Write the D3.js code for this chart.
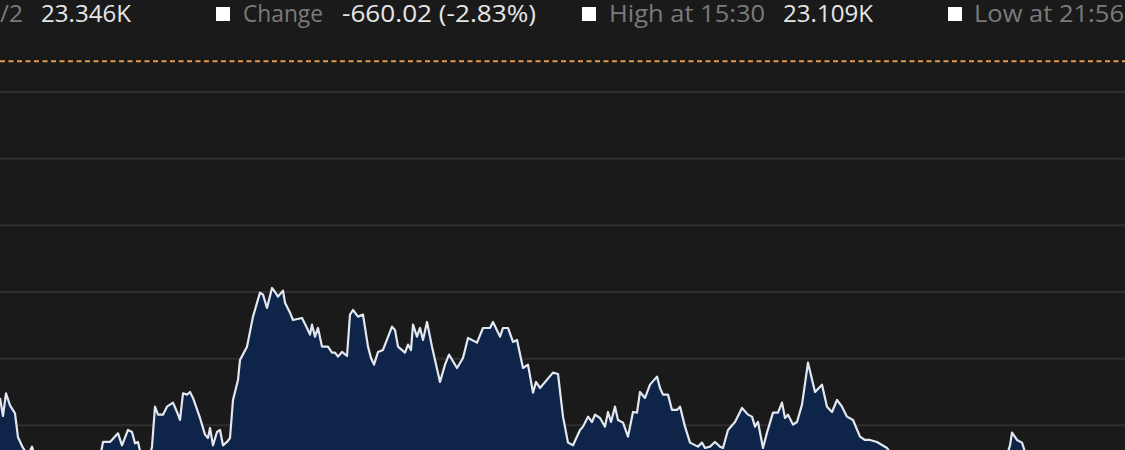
<!DOCTYPE html>
<html lang="en">
<head>
<meta charset="utf-8"/>
<title>Intraday price</title>
<style>
  html, body { margin: 0; padding: 0; background: #1a1a1a; }
  svg { display: block; }
  .hdr { font-family: "Open Sans", sans-serif; font-size: 23.5px; }
  .lbl { fill: #7a7a7a; }
  .val { fill: #e6e6e6; }
  .grid line { stroke: #2f2f2f; stroke-width: 2px; }
  .prev { stroke: #e59a4c; stroke-width: 2px; stroke-dasharray: 5 3.5; }
  .area { fill: #0e2549; }
  .line { fill: none; stroke: #e3e8f0; stroke-width: 2.2px; stroke-linejoin: round; }
</style>
</head>
<body>
<script src="https://cdn.jsdelivr.net/npm/d3@7"></script>
<script>
// minutes from the left edge of the visible window
var times = [0, 3, 6, 10, 15, 18, 23, 28, 32, 36, 45, 60, 75, 90, 100, 103, 110, 118, 122, 128,
  132, 135, 138, 141, 146, 150, 152, 155, 158, 163, 167, 173, 177, 180, 183, 187, 190, 193, 200, 205,
  208, 210, 213, 217, 220, 223, 227, 230, 233, 238, 240, 247, 253, 260, 263, 267, 272, 275, 278, 283,
  285, 290, 293, 302, 307, 310, 312, 315, 318, 322, 328, 332, 335, 338, 342, 347, 350, 353, 358, 363,
  368, 371, 374, 378, 383, 392, 395, 398, 405, 408, 411, 413, 417, 420, 423, 427, 432, 440, 445, 449,
  457, 463, 468, 477, 483, 490, 493, 500, 503, 508, 513, 517, 523, 528, 533, 536, 540, 553, 558, 563,
  568, 573, 580, 583, 588, 592, 595, 600, 605, 608, 611, 615, 618, 623, 628, 633, 637, 640, 645, 650,
  657, 660, 663, 668, 672, 677, 680, 685, 690, 698, 702, 705, 710, 715, 720, 723, 728, 735, 742, 748,
  752, 755, 758, 763, 767, 773, 778, 782, 785, 788, 793, 797, 802, 808, 815, 822, 827, 832, 837, 842,
  847, 853, 860, 865, 870, 877, 887, 895, 910, 930, 950, 970, 990, 1005, 1010, 1012, 1017, 1022, 1027, 1040,
  1060, 1080, 1100, 1125];

var prices = [22841, 22814, 22848, 22830, 22818, 22782, 22766, 22755, 22768, 22748, 22733, 22736, 22730, 22740, 22751, 22775, 22775, 22788, 22770, 22793,
  22790, 22773, 22775, 22755, 22745, 22755, 22768, 22828, 22816, 22816, 22828, 22834, 22820, 22808, 22848, 22846, 22850, 22841, 22811, 22786,
  22781, 22796, 22770, 22790, 22793, 22770, 22775, 22781, 22838, 22868, 22898, 22918, 22963, 22999, 22996, 22976, 23006, 23000, 22993, 23002,
  22984, 22969, 22958, 22961, 22946, 22936, 22951, 22933, 22946, 22918, 22918, 22909, 22909, 22903, 22910, 22904, 22966, 22973, 22963, 22966,
  22918, 22901, 22891, 22910, 22913, 22948, 22943, 22918, 22909, 22921, 22913, 22951, 22933, 22946, 22928, 22955, 22918, 22865, 22891, 22906,
  22886, 22901, 22931, 22924, 22946, 22946, 22955, 22933, 22946, 22946, 22925, 22928, 22886, 22891, 22849, 22865, 22856, 22879, 22877, 22813,
  22774, 22770, 22793, 22798, 22813, 22805, 22816, 22811, 22798, 22820, 22805, 22828, 22808, 22804, 22783, 22820, 22819, 22850, 22841, 22861,
  22873, 22856, 22846, 22846, 22823, 22823, 22828, 22798, 22774, 22768, 22774, 22766, 22768, 22775, 22768, 22766, 22793, 22805, 22826, 22816,
  22813, 22798, 22805, 22766, 22789, 22819, 22819, 22834, 22811, 22816, 22801, 22805, 22831, 22894, 22850, 22861, 22828, 22820, 22838, 22828,
  22813, 22808, 22783, 22778, 22778, 22775, 22766, 22748, 22733, 22736, 22725, 22733, 22730, 22745, 22770, 22789, 22778, 22774, 22751, 22733,
  22736, 22727, 22733, 22730];

var gridValues = [23300, 23200, 23100, 23000, 22900, 22800];
var prevClose = 23346;

var headerLabels = ["/2", "Change", "High at 15:30", "Low at 21:56"];
var headerValues = ["23.346K", "-660.02 (-2.83%)", "23.109K", ""];

// header layout: marker x, label x / width, value x / width
var headerLayout = [
  { m: null, lx: 0, lw: 23, vx: 41, vw: 90 },
  { m: 216, lx: 243, lw: 80, vx: 342, vw: 194 },
  { m: 582, lx: 609, lw: 156, vx: 783, vw: 90 },
  { m: 948, lx: 974, lw: 150, vx: 0, vw: 0 }
];

var width = 1125, height = 450;

var svg = d3.select("body")
  .append("svg")
    .attr("width", width)
    .attr("height", height);

svg.append("rect")
  .attr("width", width)
  .attr("height", height)
  .attr("fill", "#1a1a1a");

var x = d3.scaleLinear()
  .domain([0, 1125])
  .range([0, width]);

var y = d3.scaleLinear()
  .domain([23300, 22800])
  .range([92, 425.3]);

// grid
svg.append("g")
    .attr("class", "grid")
  .selectAll("line")
  .data(gridValues)
  .enter().append("line")
    .attr("x1", 0)
    .attr("x2", width)
    .attr("y1", function(d) { return y(d); })
    .attr("y2", function(d) { return y(d); });

// previous close
svg.append("line")
  .attr("class", "prev")
  .attr("x1", 0)
  .attr("x2", width)
  .attr("y1", y(prevClose))
  .attr("y2", y(prevClose));

var data = times.map(function(t, i) { return { t: t, v: prices[i] }; });

var area = d3.area()
  .x(function(d) { return x(d.t); })
  .y0(y(22600))
  .y1(function(d) { return y(d.v); });

var line = d3.line()
  .x(function(d) { return x(d.t); })
  .y(function(d) { return y(d.v); });

svg.append("path")
    .datum(data)
  .attr("class", "area")
  .attr("d", area);

svg.append("path")
    .datum(data)
  .attr("class", "line")
  .attr("d", line);

// header
var hdr = svg.append("g").attr("class", "hdr");

headerLabels.forEach(function(label, i) {
  var l = headerLayout[i];
  if (l.m !== null) {
    hdr.append("rect")
      .attr("x", l.m)
      .attr("y", 7)
      .attr("width", 14)
      .attr("height", 14)
      .attr("fill", "#ffffff");
  }
  hdr.append("text")
    .attr("class", "lbl")
    .attr("x", l.lx)
    .attr("y", 22)
    .attr("textLength", l.lw)
    .attr("lengthAdjust", "spacingAndGlyphs")
    .text(label);
  if (headerValues[i]) {
    hdr.append("text")
      .attr("class", "val")
      .attr("x", l.vx)
      .attr("y", 22)
      .attr("textLength", l.vw)
      .attr("lengthAdjust", "spacingAndGlyphs")
      .text(headerValues[i]);
  }
});
</script>
</body>
</html>
